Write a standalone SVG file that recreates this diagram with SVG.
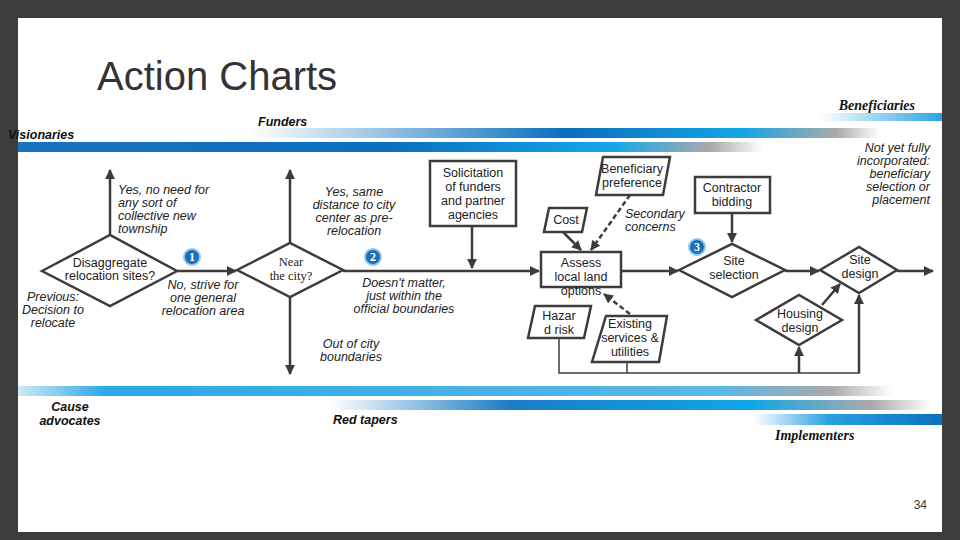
<svg xmlns="http://www.w3.org/2000/svg" width="960" height="540" viewBox="0 0 960 540">
<style>
.it{font-family:"Liberation Sans",Arial,sans-serif;font-style:italic;font-size:12.5px;fill:#222}
.n{font-family:"Liberation Sans",Arial,sans-serif;font-size:12.5px;fill:#222}
.s{fill:#fff;stroke:#3c3c3c;stroke-width:2.5}
.ln{stroke:#3c3c3c;stroke-width:2.5;fill:none}
.th{stroke:#3c3c3c;stroke-width:1.5;fill:none}
.ds{stroke:#3c3c3c;stroke-width:2.5;fill:none;stroke-dasharray:5 3}
.lab{font-family:"Liberation Sans",Arial,sans-serif;font-style:italic;font-weight:bold;font-size:12.5px;fill:#111}
.labs{font-family:"Liberation Serif","Times New Roman",serif;font-style:italic;font-weight:bold;font-size:14px;fill:#111}
.bd{fill:#1b6fb5;stroke:#8fc6ef;stroke-width:2}
.bt{font-family:"Liberation Serif",serif;font-weight:bold;font-size:12px;fill:#fff}
</style>
<defs>
<marker id="ah" viewBox="0 0 10 10" refX="9" refY="5" markerWidth="4" markerHeight="4" orient="auto"><path d="M0,0L10,5L0,10z" fill="#3c3c3c"/></marker>
<linearGradient id="gA" x1="0" x2="1"><stop offset="0" stop-color="#fff"/><stop offset="1" stop-color="#29a3e6"/></linearGradient>
<linearGradient id="gB" x1="0" x2="1"><stop offset="0" stop-color="#fff"/><stop offset="0.5" stop-color="#0a6fbd"/><stop offset="0.78" stop-color="#15a4e6"/><stop offset="0.93" stop-color="#aaa"/><stop offset="1" stop-color="#fff"/></linearGradient>
<linearGradient id="gC" x1="0" x2="1"><stop offset="0" stop-color="#1a72c0"/><stop offset="0.5" stop-color="#0a70bf"/><stop offset="0.8" stop-color="#17a6e8"/><stop offset="0.93" stop-color="#aaa"/><stop offset="1" stop-color="#fff"/></linearGradient>
<linearGradient id="gD" x1="0" x2="1"><stop offset="0" stop-color="#cde9f8"/><stop offset="0.1" stop-color="#2aa8e8"/><stop offset="0.8" stop-color="#5ab8e6"/><stop offset="0.93" stop-color="#aaa"/><stop offset="1" stop-color="#fff"/></linearGradient>
<linearGradient id="gE" x1="0" x2="1"><stop offset="0" stop-color="#fff"/><stop offset="0.3" stop-color="#1a7cc6"/><stop offset="0.7" stop-color="#10a6e8"/><stop offset="0.9" stop-color="#aaa"/><stop offset="1" stop-color="#fff"/></linearGradient>
<linearGradient id="gF" x1="0" x2="1"><stop offset="0" stop-color="#fff"/><stop offset="0.4" stop-color="#2aa0e2"/><stop offset="1" stop-color="#0a70bf"/></linearGradient>
</defs>
<rect width="960" height="540" fill="#3d3d3d"/>
<rect x="18" y="18" width="924" height="514" fill="#fff"/>
<g id="bands">
<rect x="820" y="113" width="122" height="8" fill="url(#gA)"/>
<rect x="250" y="128" width="630" height="10" fill="url(#gB)"/>
<rect x="18" y="142" width="745" height="10" fill="url(#gC)"/>
<rect x="18" y="386" width="875" height="10" fill="url(#gD)"/>
<rect x="330" y="400" width="602" height="10" fill="url(#gE)"/>
<rect x="753" y="414" width="189" height="11" fill="url(#gF)"/>
</g>
<text x="97" y="90" font-family="Liberation Sans,Arial,sans-serif" font-size="40" fill="#333">Action Charts</text>
<text class="labs" x="915" y="110" text-anchor="end">Beneficiaries</text>
<text class="lab" x="258" y="126">Funders</text>
<text class="lab" x="8" y="139">Visionaries</text>
<text class="lab" x="70" y="411" text-anchor="middle">Cause</text>
<text class="lab" x="70" y="425" text-anchor="middle">advocates</text>
<text class="lab" x="333" y="424">Red tapers</text>
<text class="labs" x="775" y="440">Implementers</text>
<text x="927" y="509" font-family="Liberation Sans,Arial,sans-serif" font-size="12" fill="#333" text-anchor="end">34</text>
<g class="it" text-anchor="end"><text x="930" y="152">Not yet fully</text><text x="930" y="165">incorporated:</text><text x="930" y="178">beneficiary</text><text x="930" y="191">selection or</text><text x="930" y="204">placement</text></g>

<g id="connectors">
<line class="ln" x1="110" y1="235" x2="110" y2="170" marker-end="url(#ah)"/>
<line class="ln" x1="177" y1="271" x2="236" y2="271" marker-end="url(#ah)"/>
<line class="ln" x1="290" y1="243" x2="290" y2="170" marker-end="url(#ah)"/>
<line class="ln" x1="290" y1="297" x2="290" y2="374" marker-end="url(#ah)"/>
<line class="ln" x1="343" y1="271" x2="539" y2="271" marker-end="url(#ah)"/>
<line class="ln" x1="472" y1="226" x2="472" y2="268" marker-end="url(#ah)"/>
<line class="ln" x1="621" y1="271" x2="678" y2="271" marker-end="url(#ah)"/>
<line class="ln" x1="732" y1="213" x2="732" y2="242" marker-end="url(#ah)"/>
<line class="ln" x1="785" y1="271" x2="819" y2="271" marker-end="url(#ah)"/>
<line class="ln" x1="897" y1="271" x2="933" y2="271" marker-end="url(#ah)"/>
<line class="ln" x1="563" y1="232" x2="581" y2="250" marker-end="url(#ah)"/>
<line class="ds" x1="630" y1="195" x2="591" y2="250" marker-end="url(#ah)"/>
<line class="ds" x1="630" y1="314" x2="604" y2="294" marker-end="url(#ah)"/>
<line class="ln" x1="822" y1="305" x2="840" y2="284" marker-end="url(#ah)"/>
<polyline class="th" points="559,338 559,373 859,373 859,296"/>
<line class="th" x1="627" y1="362" x2="627" y2="373"/>
<line class="ln" x1="859" y1="373" x2="859" y2="295" marker-end="url(#ah)"/>
<line class="ln" x1="799" y1="373" x2="799" y2="347" marker-end="url(#ah)"/>
</g>

<g id="d1"><polygon class="s" points="42,271 110,235 177,271 110,306"/><text class="n" x="110" y="267" text-anchor="middle">Disaggregate</text><text class="n" x="110" y="280" text-anchor="middle">relocation sites?</text></g>
<g id="d2"><polygon class="s" points="237,270 290,243 343,270 290,297"/><text x="291" y="266" text-anchor="middle" font-family="Liberation Serif,serif" font-size="12.5" fill="#222">Near</text><text x="291" y="280" text-anchor="middle" font-family="Liberation Serif,serif" font-size="12.5" fill="#222">the city?</text></g>
<g id="sol"><rect class="s" x="430" y="161" width="86" height="65"/><g class="n" text-anchor="middle"><text x="473" y="177">Solicitation</text><text x="473" y="191">of funders</text><text x="473" y="205">and partner</text><text x="473" y="219">agencies</text></g></g>
<g id="assess"><rect class="s" x="541" y="252" width="80" height="35"/><g class="n" text-anchor="middle"><text x="581" y="267">Assess</text><text x="581" y="281">local land</text><text x="581" y="295">options</text></g></g>
<g id="cost"><polygon class="s" points="549,208 587,208 582,232 544,232"/><text class="n" x="566" y="224" text-anchor="middle">Cost</text></g>
<g id="benpref"><polygon class="s" points="603,157 670,157 663,195 596,195"/><g class="n" text-anchor="middle"><text x="632" y="173">Beneficiary</text><text x="632" y="187">preference</text></g></g>
<text class="it" x="625" y="218">Secondary</text><text class="it" x="625" y="231">concerns</text>
<g id="hazard"><polygon class="s" points="535,306 591,306 584,338 528,338"/><g class="n" text-anchor="middle"><text x="559" y="320">Hazar</text><text x="559" y="334">d risk</text></g></g>
<g id="exist"><polygon class="s" points="606,316 667,316 659,362 592,362"/><g class="n" text-anchor="middle"><text x="630" y="328">Existing</text><text x="630" y="342">services &amp;</text><text x="630" y="356">utilities</text></g></g>
<g id="contractor"><rect class="s" x="695" y="177" width="75" height="36"/><g class="n" text-anchor="middle"><text x="732" y="192">Contractor</text><text x="732" y="206">bidding</text></g></g>
<g id="sitesel"><polygon class="s" points="679,270 732,244 785,270 732,297"/><g class="n" text-anchor="middle"><text x="734" y="265">Site</text><text x="734" y="279">selection</text></g></g>
<g id="sitedes"><polygon class="s" points="820,270 859,247 897,270 859,293"/><g class="n" text-anchor="middle"><text x="860" y="264">Site</text><text x="860" y="278">design</text></g></g>
<g id="housing"><polygon class="s" points="756,320 799,295 842,320 799,345"/><g class="n" text-anchor="middle"><text x="800" y="318">Housing</text><text x="800" y="332">design</text></g></g>

<g id="badges">
<circle class="bd" cx="192" cy="257" r="8"/><text class="bt" x="192" y="261" text-anchor="middle">1</text>
<circle class="bd" cx="373" cy="257" r="8"/><text class="bt" x="373" y="261" text-anchor="middle">2</text>
<circle class="bd" cx="697" cy="247" r="8"/><text class="bt" x="697" y="251" text-anchor="middle">3</text>
</g>
<g class="it">
<text x="118" y="194">Yes, no need for</text><text x="118" y="207">any sort of</text><text x="118" y="220">collective new</text><text x="118" y="233">township</text>
<g text-anchor="middle"><text x="354" y="196">Yes, same</text><text x="354" y="209">distance to city</text><text x="354" y="222">center as pre-</text><text x="354" y="235">relocation</text>
<text x="203" y="289">No, strive for</text><text x="203" y="302">one general</text><text x="203" y="315">relocation area</text>
<text x="53" y="301">Previous:</text><text x="53" y="314">Decision to</text><text x="53" y="327">relocate</text>
<text x="404" y="287">Doesn't matter,</text><text x="404" y="300">just  within the</text><text x="404" y="313">official boundaries</text>
<text x="351" y="348">Out of city</text><text x="351" y="361">boundaries</text></g>
</g>
</svg>
